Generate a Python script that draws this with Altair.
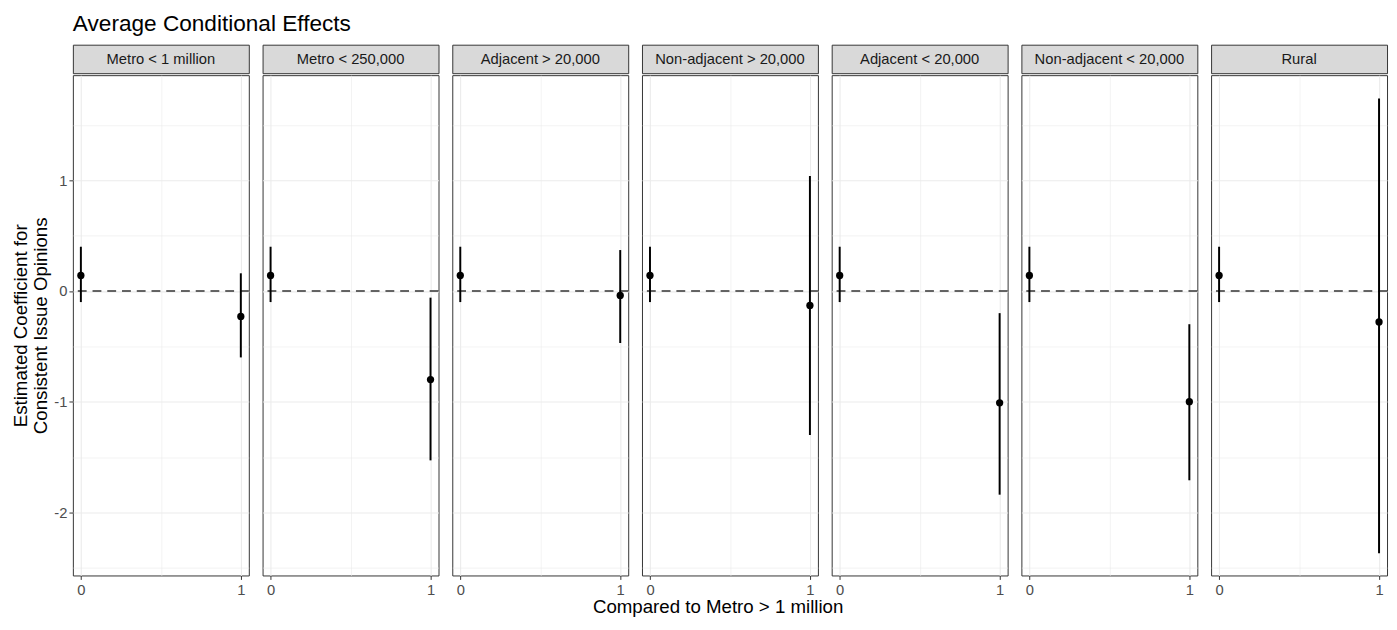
import altair as alt
import pandas as pd

# ---- data ----
categories = [
    "Metro < 1 million",
    "Metro < 250,000",
    "Adjacent > 20,000",
    "Non-adjacent > 20,000",
    "Adjacent < 20,000",
    "Non-adjacent < 20,000",
    "Rural",
]
x_levels = [0, 1]
base_est, base_lo, base_hi = 0.14, -0.10, 0.40
cmp_est = [-0.23, -0.80, -0.04, -0.13, -1.01, -1.00, -0.28]
cmp_lo = [-0.60, -1.53, -0.47, -1.30, -1.84, -1.71, -2.37]
cmp_hi = [0.16, -0.06, 0.37, 1.04, -0.20, -0.30, 1.74]
y_ticks = [-2.5, -2, -1.5, -1, -0.5, 0, 0.5, 1, 1.5]
x_ticks = [0, 0.5, 1]
ref_value = [0]
main_title = ["Average Conditional Effects"]
x_title = ["Compared to Metro > 1 million"]

rows = []
for i, c in enumerate(categories):
    rows.append(dict(region=c, x=x_levels[0], est=base_est, lo=base_lo, hi=base_hi))
    rows.append(dict(region=c, x=x_levels[1], est=cmp_est[i], lo=cmp_lo[i], hi=cmp_hi[i]))
df = pd.DataFrame(rows)
zero_df = pd.DataFrame({"ref": ref_value})
strip_df = pd.DataFrame({"region": categories})
xtitle_df = pd.DataFrame({"t": x_title})
title_df = pd.DataFrame({"t": main_title})

FONT = "Liberation Sans"
PW, PH, SH, GAP = 179, 509, 29, 10

xscale = alt.Scale(domain=[-0.05, 1.05], nice=False, zero=False)
yscale = alt.Scale(domain=[-2.57, 1.95], nice=False, zero=False)
no_frame = alt.ViewBackground(strokeOpacity=0, strokeWidth=0)


def make_panel(i, c):
    first = i == 0
    xaxis = alt.Axis(
        values=x_ticks,
        labelExpr="datum.value == 0.5 ? '' : '' + datum.value",
        tickOpacity={"condition": {"test": "datum.value == 0.5", "value": 0}, "value": 1},
        gridWidth={"condition": {"test": "datum.value == 0.5", "value": 0.6}, "value": 1.1},
        labelFlush=False,
        labelOverlap=False,
        labelPadding=3,
        title=None,
    )
    if first:
        yaxis = alt.Axis(
            values=y_ticks,
            labelExpr="datum.value % 1 === 0 ? '' + datum.value : ''",
            tickOpacity={"condition": {"test": "datum.value % 1 !== 0", "value": 0}, "value": 1},
            gridWidth={"condition": {"test": "datum.value % 1 !== 0", "value": 0.6}, "value": 1.1},
            labelOverlap=False,
            labelPadding=2,
            title=["Estimated Coefficient for", "Consistent Issue Opinions"],
            titleLineHeight=21,
        )
    else:
        yaxis = alt.Axis(
            values=y_ticks,
            labels=False,
            ticks=False,
            minExtent=0,
            gridWidth={"condition": {"test": "datum.value % 1 !== 0", "value": 0.6}, "value": 1.1},
            title=None,
        )
    X = alt.X("x:Q", scale=xscale, axis=xaxis)
    base = alt.Chart(df).transform_filter(alt.datum.region == c)

    zero = alt.Chart(zero_df).mark_rule(
        color="#333333", strokeDash=[9, 6], strokeWidth=1.5
    ).encode(y=alt.Y("ref:Q", scale=yscale, axis=yaxis))
    rules = base.mark_rule(color="black", strokeWidth=2).encode(
        x=X, y=alt.Y("lo:Q", scale=yscale, axis=yaxis), y2="hi:Q"
    )
    pts = base.mark_circle(color="black", size=55, opacity=1).encode(
        x=X, y=alt.Y("est:Q", scale=yscale, axis=yaxis)
    )
    plot = alt.layer(zero, rules, pts).properties(width=PW, height=PH)

    strip = (
        alt.Chart(strip_df)
        .transform_filter(alt.datum.region == c)
        .mark_text(font=FONT, fontSize=15, color="#1A1A1A", baseline="middle", align="center")
        .encode(text="region:N", x=alt.value(PW / 2), y=alt.value(SH / 2))
        .properties(
            width=PW,
            height=SH,
            view=alt.ViewBackground(fill="#D9D9D9", stroke="#333333", strokeWidth=1),
        )
    )
    return alt.vconcat(strip, plot, spacing=0)


panels = [make_panel(i, c) for i, c in enumerate(categories)]
grid = alt.hconcat(*panels, spacing=GAP)

TOTAL_W = 7 * PW + 6 * GAP

title_chart = (
    alt.Chart(title_df)
    .mark_text(font=FONT, fontSize=23, color="black", baseline="top", align="left")
    .encode(text="t:N", x=alt.value(0), y=alt.value(0))
    .properties(width=TOTAL_W, height=31, view=no_frame)
)

xtitle = (
    alt.Chart(xtitle_df)
    .mark_text(font=FONT, fontSize=19, color="black", baseline="top", align="center")
    .encode(text="t:N", x=alt.value(TOTAL_W / 2), y=alt.value(0))
    .properties(width=TOTAL_W, height=19, view=no_frame)
)

chart = (
    alt.vconcat(title_chart, grid, xtitle, spacing=0)
    .properties(
        background="white",
        padding={"left": 3, "top": 0, "right": 0, "bottom": 0},
    )
    .configure_view(stroke="#333333", strokeWidth=1)
    .configure_axis(
        domain=False,
        gridColor="#EBEBEB",
        tickColor="#333333",
        tickSize=4,
        labelColor="#4D4D4D",
        labelFont=FONT,
        labelFontSize=15,
        labelPadding=4,
        titleFont=FONT,
        titleFontSize=19,
        titleFontWeight="normal",
        titleColor="black",
        titlePadding=3,
    )
)

chart.save("out.html", embed_options={"renderer": "svg", "actions": False})
